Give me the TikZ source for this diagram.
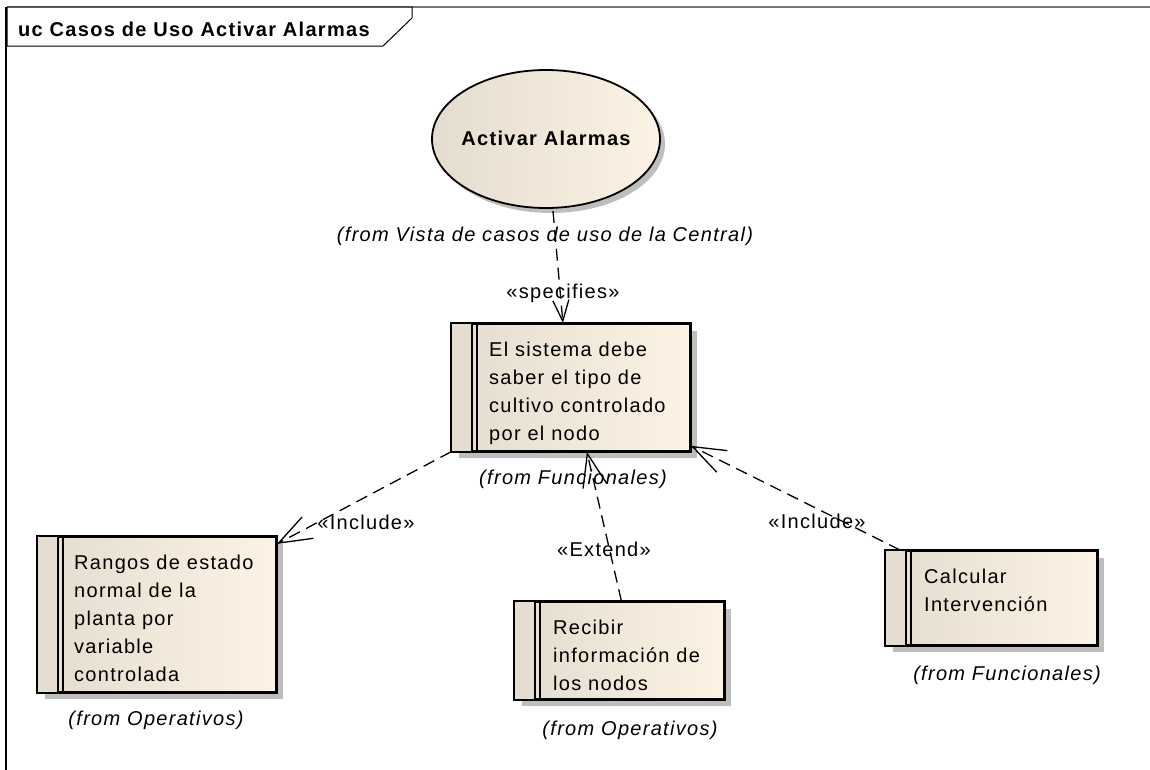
\documentclass[tikz,border=0pt]{standalone}
\usepackage{fontspec}
\setmainfont{Liberation Sans}[LetterSpace=6.5]
\usetikzlibrary{arrows.meta,shadows,shapes.geometric,calc}
\definecolor{boxL}{RGB}{228,220,206}
\definecolor{boxR}{RGB}{252,243,229}
\definecolor{stripe}{RGB}{229,221,208}
\definecolor{shad}{RGB}{190,190,190}
\definecolor{framegray}{RGB}{120,120,120}
\begin{document}
\begin{tikzpicture}[x=1pt,y=-1pt,
  font=\fontsize{20}{28}\selectfont,
  reqbox/.style={draw=black, line width=1.8pt, left color=boxL, right color=boxR,
    drop shadow={shadow xshift=7pt, shadow yshift=-7pt, fill=shad, opacity=1},
    anchor=north west, inner sep=0pt, rectangle},
  stripeline/.style={draw=black, line width=1.5pt},
  body/.style={anchor=north west, inner sep=0pt, align=left},
  fromlbl/.style={inner sep=0pt, font=\fontsize{20}{28}\selectfont\itshape},
  stereo/.style={inner sep=0pt},
  dep/.style={draw=black, line width=1.3pt, dash pattern=on 12pt off 7pt,
    -{Straight Barb[length=33pt,width=24pt,line width=1.3pt]}},
  depsmall/.style={draw=black, line width=1.3pt, dash pattern=on 12pt off 7pt,
    -{Straight Barb[length=21pt,width=16pt,line width=1.3pt]}}
]
\useasboundingbox (0,0) rectangle (1150,769);
% frame
\draw[framegray, line width=2pt] (7,7) -- (1152,7);
\draw[black, line width=1.5pt] (6,7) -- (6,771);
\draw[black, line width=1pt, fill=white] (7,7) -- (412,7) -- (412,18) -- (383,46) -- (7,46) -- cycle;
\node[anchor=west, inner sep=0pt, font=\fontsize{20}{28}\selectfont\bfseries] (title) at (18,29) {uc Casos de Uso Activar Alarmas};

% use case ellipse
\node[ellipse, draw=black, line width=1.8pt, left color=boxL, right color=boxR,
  drop shadow={shadow xshift=5pt, shadow yshift=-5pt, fill=shad, opacity=1},
  minimum width=228pt, minimum height=138pt, inner sep=0pt] (ell) at (546,139) {};
\node[inner sep=0pt, font=\fontsize{20}{28}\selectfont\bfseries] (ellt) at (546,138) {Activar Alarmas};
\node[fromlbl] (fromvista) at (545,236) {(from Vista de casos de uso de la Central)};

% requirement boxes
\node[reqbox, minimum width=238pt, minimum height=127pt] (req) at (451,323) {};
\node[reqbox, minimum width=238pt, minimum height=155pt] (r1) at (37,536) {};
\node[reqbox, minimum width=209pt, minimum height=97pt] (r2) at (514,601) {};
\node[reqbox, minimum width=211pt, minimum height=94pt] (r3) at (885,550) {};

% stripes
\foreach \b in {req,r1,r2,r3}{
  \fill[stripe] ([xshift=1pt,yshift=-1pt]\b.north west) rectangle ([xshift=21pt,yshift=1pt]\b.south west);
  \draw[stripeline] ([xshift=21pt]\b.north west) -- ([xshift=21pt]\b.south west);
  \draw[stripeline] ([xshift=26pt]\b.north west) -- ([xshift=26pt]\b.south west);
  \draw[black, line width=1.8pt] (\b.north west) rectangle (\b.south east);
}

% box texts
\node[body] (reqt) at (489,341.5) {El sistema debe\\saber el tipo de\\cultivo controlado\\por el nodo};
\node[body] (r1t) at (74,554.5) {Rangos de estado\\normal de la\\planta por\\variable\\controlada};
\node[body] (r2t) at (553,619.5) {Recibir\\información de\\los nodos};
\node[body] (r3t) at (924,568.5) {Calcular\\Intervención};

% from labels
\node[fromlbl] (fromreq) at (573,479) {(from Funcionales)};
\node[fromlbl] (fromr1) at (156,720) {(from Operativos)};
\node[fromlbl] (fromr2) at (630,730) {(from Operativos)};
\node[fromlbl] (fromr3) at (1007,675) {(from Funcionales)};

% connectors
\draw[depsmall] ([xshift=7pt,yshift=-2pt]ell.south) -- ([xshift=-8pt]req.north);
\node[stereo] (lspec) at (563,293) {«specifies»};

\draw[dep] (req.south west) -- ([yshift=-8pt]r1.north east);
\node[stereo] (linc1) at (366,522) {«Include»};

\draw[dep] ([xshift=2pt]r2.north) -- ([xshift=16pt]req.south);
\node[stereo] (lext) at (604,549) {«Extend»};

\draw[dep] ([xshift=15pt]r3.north west) -- ([yshift=6pt]req.south east);
\node[stereo] (linc2) at (817,521) {«Include»};
\end{tikzpicture}
\end{document}
